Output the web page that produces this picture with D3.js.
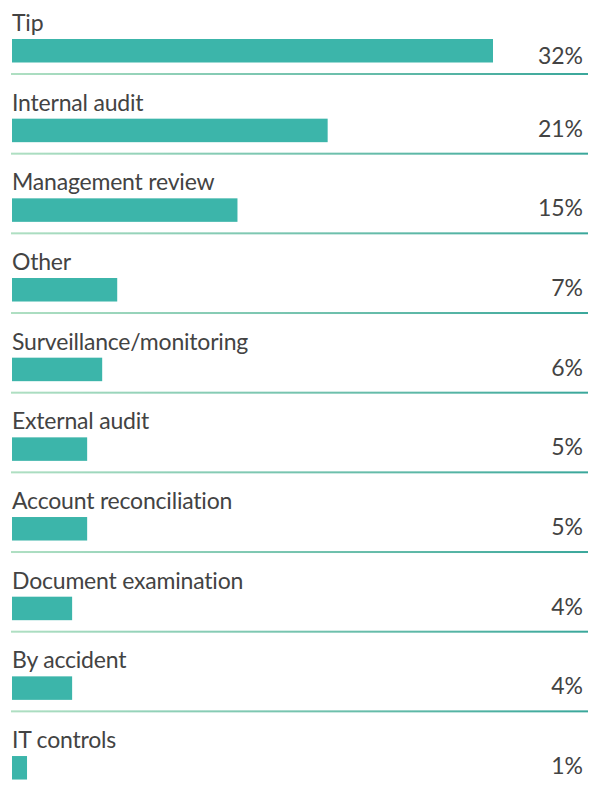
<!DOCTYPE html>
<html>
<head>
<meta charset="utf-8">
<script src="https://cdn.jsdelivr.net/npm/d3@7/dist/d3.min.js"></script>
<style>
  html, body { margin: 0; padding: 0; background: #fff; }
  svg { display: block; }
  text { font-variant-ligatures: none; }
</style>
</head>
<body>
<svg id="chart" width="594" height="786"></svg>
<script>
// Detection methods and the share of cases each one uncovered
const categories = [
  "Tip", "Internal audit", "Management review", "Other",
  "Surveillance/monitoring", "External audit", "Account reconciliation",
  "Document examination", "By accident", "IT controls"
];
const values = [32, 21, 15, 7, 6, 5, 5, 4, 4, 1];
const valueLabels = ["32%", "21%", "15%", "7%", "6%", "5%", "5%", "4%", "4%", "1%"];

const svg = d3.select("#chart");
const left = 12, right = 588;

// One row per category; the bar sits in the lower part of each row
const y = d3.scaleBand()
  .domain(categories)
  .range([39, 39 + 79.67 * categories.length])
  .paddingInner(0)
  .paddingOuter(0);

const x = d3.scaleLinear().domain([0, 32]).range([left, 493]);

// Gradient used by the row separators
const defs = svg.append("defs");
const grad = defs.append("linearGradient")
  .attr("id", "rule")
  .attr("gradientUnits", "userSpaceOnUse")
  .attr("x1", left).attr("x2", right).attr("y1", 0).attr("y2", 0);
grad.append("stop").attr("offset", "0%").attr("stop-color", "#afdfc2");
grad.append("stop").attr("offset", "100%").attr("stop-color", "#3aa79b");

const rows = svg.selectAll("g.row")
  .data(categories.map((c, i) => ({ c, v: values[i], label: valueLabels[i], i })))
  .join("g")
  .attr("class", "row")
  .attr("transform", d => `translate(0,${y(d.c)})`);

rows.append("text")
  .attr("x", left)
  .attr("y", -8)
  .attr("font-family", "Lato, 'Open Sans', sans-serif")
  .attr("font-size", 23)
  .attr("letter-spacing", -0.2)
  .attr("fill", "#434343")
  .text(d => d.c);

rows.append("rect")
  .attr("x", x(0))
  .attr("y", 0)
  .attr("width", d => x(d.v) - x(0))
  .attr("height", 23.5)
  .attr("fill", "#3cb5aa");

// Value labels sit at the right edge; the top row's label drops a little lower
rows.append("text")
  .attr("x", 583)
  .attr("y", d => d.i === 0 ? 25 : 18)
  .attr("text-anchor", "end")
  .attr("font-family", "Lato, 'Open Sans', sans-serif")
  .attr("font-size", 23)
  .attr("fill", "#434343")
  .text(d => d.label);

rows.filter(d => d.i < categories.length - 1)
  .append("rect")
  .attr("x", left - 1)
  .attr("y", 34)
  .attr("width", right - left + 1)
  .attr("height", 2)
  .attr("fill", "url(#rule)");
</script>
</body>
</html>
